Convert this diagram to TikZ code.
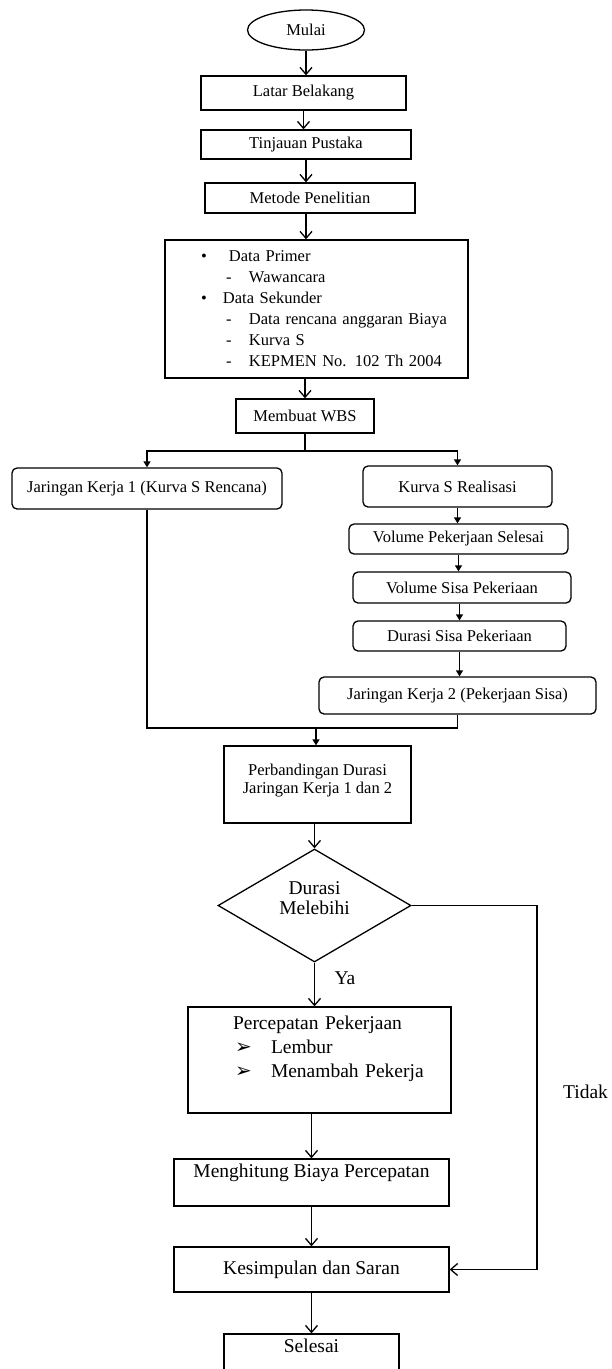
\documentclass[tikz,border=0pt]{standalone}
\usepackage{fontspec}
\setmainfont{Liberation Serif}
\newfontfamily\symfont{DejaVu Sans}
\usetikzlibrary{arrows.meta,shapes.geometric}

\begin{document}
\begin{tikzpicture}[
  x=1pt, y=-1pt,
  smalltxt/.style={font=\fontsize{16.5}{20}\selectfont},
  bigtxt/.style={font=\fontsize{19.5}{24}\selectfont},
  box/.style={draw, line width=1.3pt, inner sep=0pt, align=center},
  rbox/.style={box, rounded corners=5pt},
  line/.style={line width=1.3pt},
  openarrow/.style={line, -{Straight Barb[length=7pt,width=12pt]}},
  fillarrow/.style={line, -{Triangle[length=6pt,width=7pt]}}
]
\useasboundingbox (0,0) rectangle (611,1369);

% opening steps
\node[box, smalltxt, ellipse, minimum width=117, minimum height=40] (mulai) at (306,30) {Mulai};
\node[box, smalltxt, minimum width=205, minimum height=34] (latar) at (303.5,93) {Latar Belakang};
\node[box, smalltxt, minimum width=210, minimum height=29] (tinjau) at (306,144.5) {Tinjauan Pustaka};
\node[box, smalltxt, minimum width=210, minimum height=30] (metode) at (310,198) {Metode Penelitian};
\node[box, font=\fontsize{16.5}{21}\selectfont, text width=303, align=left, minimum height=138] (data) at (316.5,309) {%
  \noindent\hspace*{36pt}\makebox[28pt][l]{•}Data Primer\\
  \hspace*{61pt}\makebox[23pt][l]{-}Wawancara\\
  \hspace*{36pt}\makebox[22pt][l]{•}Data Sekunder\\
  \hspace*{61pt}\makebox[23pt][l]{-}Data rencana anggaran Biaya\\
  \hspace*{61pt}\makebox[23pt][l]{-}Kurva S\\
  \hspace*{61pt}\makebox[23pt][l]{-}KEPMEN No. 102 Th 2004};
\node[box, smalltxt, minimum width=138, minimum height=34] (wbs) at (305,416) {Membuat WBS};

% two branches
\node[rbox, smalltxt, minimum width=270, minimum height=41] (jk1) at (147,488.5) {Jaringan Kerja 1 (Kurva S Rencana)};
\node[rbox, smalltxt, minimum width=189, minimum height=41] (kurva) at (457.5,486.5) {Kurva S Realisasi};
\node[rbox, smalltxt, minimum width=219, minimum height=30] (vps) at (458.5,539) {Volume Pekerjaan Selesai};
\node[rbox, smalltxt, minimum width=218, minimum height=31] (vsp) at (462,587.5) {Volume Sisa Pekeriaan};
\node[rbox, smalltxt, minimum width=213, minimum height=30] (dsp) at (459.5,636) {Durasi Sisa Pekeriaan};
\node[rbox, smalltxt, minimum width=277, minimum height=37] (jk2) at (457.5,695.5) {Jaringan Kerja 2 (Pekerjaan Sisa)};

% comparison and decision
\node[box, font=\fontsize{16.5}{18}\selectfont, minimum width=187, minimum height=77, text depth=11pt] (banding) at (317.5,784.5) {Perbandingan Durasi\\Jaringan Kerja 1 dan 2};
\node[box, font=\fontsize{19.5}{20}\selectfont, diamond, aspect=1.7, minimum width=193, minimum height=113, text depth=14pt] (durasi) at (314.5,905.5) {Durasi\\Melebihi};
\node[bigtxt] (ya) at (345,978) {Ya};
\node[bigtxt] (tidak) at (585.5,1092) {Tidak};
\node[box, bigtxt, text width=263, align=left, minimum height=106, text depth=75.5pt] (cepat) at (319.5,1060) {%
  \noindent\hspace*{45pt}Percepatan Pekerjaan\\
  \hspace*{47pt}\makebox[36pt][l]{\symfont\fontsize{20}{20}\selectfont ➢}Lembur\\
  \hspace*{47pt}\makebox[36pt][l]{\symfont\fontsize{20}{20}\selectfont ➢}Menambah Pekerja};
\node[box, bigtxt, minimum width=275, minimum height=47, text depth=24pt] (hitung) at (311.5,1182.5) {Menghitung Biaya Percepatan};
\node[box, bigtxt, minimum width=275, minimum height=45] (simpul) at (311.5,1269.5) {Kesimpulan dan Saran};
\node[box, bigtxt, minimum width=175, minimum height=40, text depth=16pt] (selesai) at (311.5,1354) {Selesai};

\coordinate (pisah) at (305,451);
\coordinate (gabung) at (316,728);
\coordinate (belok) at (537,905.5);

\draw[openarrow] (mulai.south) -- (mulai.south |- latar.north);
\draw[openarrow] (latar.south) -- (latar.south |- tinjau.north);
\draw[openarrow] (tinjau.south) -- (tinjau.south |- metode.north);
\draw[openarrow] (tinjau.south |- metode.south) -- (tinjau.south |- data.north);
\draw[openarrow] (wbs.north |- data.south) -- (wbs.north);
\draw[line] (wbs.south) -- (pisah);
\draw[fillarrow] (pisah) -| (jk1.north);
\draw[fillarrow] (pisah) -| (kurva.north);
\draw[fillarrow] (kurva.south) -- (kurva.south |- vps.north);
\draw[fillarrow] (vps.south) -- (vps.south |- vsp.north);
\draw[fillarrow] (dsp.north |- vsp.south) -- (dsp.north);
\draw[fillarrow] (dsp.south) -- (dsp.south |- jk2.north);
\draw[line] (jk1.south) |- (gabung);
\draw[line] (jk2.south) |- (gabung);
\draw[fillarrow] (gabung) -- (gabung |- banding.north);
\draw[openarrow] (durasi.north |- banding.south) -- (durasi.north);
\draw[openarrow] (durasi.south) -- (durasi.south |- cepat.north);
\draw[openarrow] (hitung.north |- cepat.south) -- (hitung.north);
\draw[openarrow] (hitung.south) -- (simpul.north);
\draw[openarrow] (simpul.south) -- (selesai.north);
\draw[openarrow] (durasi.east) -- (belok) |- (simpul.east);
\end{tikzpicture}
\end{document}
